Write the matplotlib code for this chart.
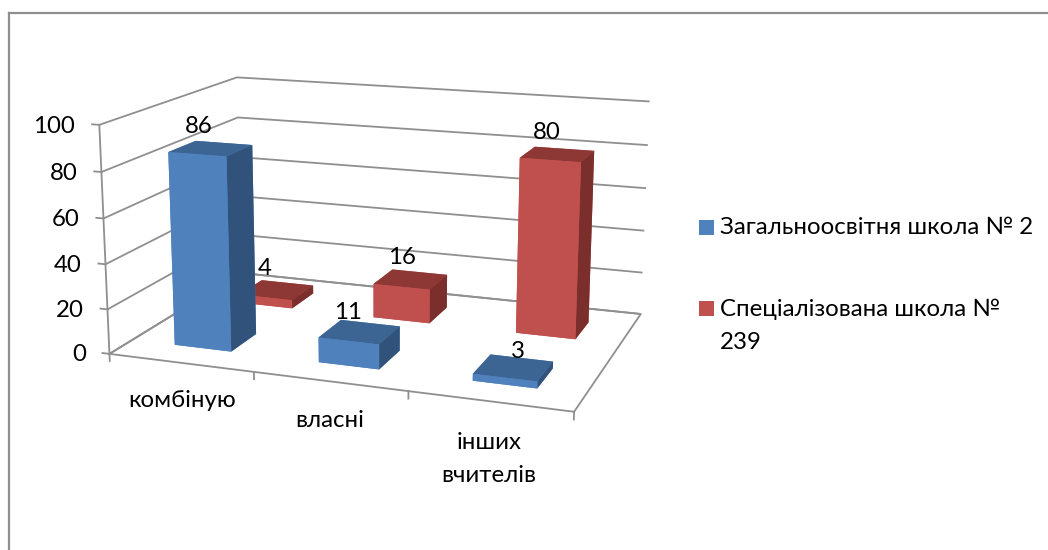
import matplotlib
matplotlib.use("Agg")
import matplotlib.pyplot as plt
from matplotlib.lines import Line2D
from matplotlib.patches import Rectangle
from mpl_toolkits.mplot3d import proj3d

categories = ["комбіную", "власні", "інших\nвчителів"]
series_names = ["Загальноосвітня школа № 2", "Спеціалізована школа №\n239"]
school2 = [86, 11, 3]
school239 = [4, 16, 80]
yticks = [0, 20, 40, 60, 80, 100]

plt.rcParams['font.family'] = ['Lato', 'Open Sans', 'DejaVu Sans']
plt.rcParams['font.size'] = 17.3
plt.rcParams['grid.color'] = '#8f8f8f'
plt.rcParams['grid.linewidth'] = 1.3

gray = '#8f8f8f'
# faces: bottom, top, front, back, left, right
blue_faces = ['#4F81BD', '#3D6594', '#4F81BD', '#4F81BD', '#4F81BD', '#31527A']
red_faces = ['#C0504D', '#8E3836', '#C0504D', '#C0504D', '#C0504D', '#7B2F2D']

bar_x = 0.3056
bar_w = 0.3999
bar_y = [0.3054, 1.3024]
bar_d = 0.3859

# label nudges, by row then category
label_dx = [[-0.087, -0.073, 0.04], [-0.09, -0.06, -0.06]]
label_dz = [[3.5, 1.5, 1.0], [3.0, 3.5, 3.5]]
cat_label_z = [-17, -17, -24.5]

fig = plt.figure(figsize=(10.48, 5.5), dpi=100, facecolor='white')
ax = fig.add_axes([0.08243, 0.04710, 0.55605, 1.05953], projection='3d')
ax.set_xlim(0, 3)
ax.set_ylim(0, 2)
ax.set_zlim(0, 100)
ax.view_init(14.1976, -70.2326, -0.0349)
ax.set_proj_type('persp', focal_length=0.5055)
ax.set_box_aspect((3, 1.9817, 1.4713))
ax.computed_zorder = False
ax.patch.set_alpha(0)

ax.set_xticks([])
ax.set_yticks([])
ax.set_zticks(yticks)
ax.set_zticklabels([])
for axis in (ax.xaxis, ax.yaxis, ax.zaxis):
    axis.set_pane_color((1, 1, 1, 0))
    axis.pane.set_edgecolor((1, 1, 1, 0))
    axis.line.set_color((1, 1, 1, 0))
    axis._axinfo['tick']['inward_factor'] = 0
    axis._axinfo['tick']['outward_factor'] = 0


def label3d(x, y, z, s, **kw):
    xs, ys, _ = proj3d.proj_transform(x, y, z, ax.get_proj())
    ax.text2D(xs, ys, s, transform=ax.transData, color='black', **kw)


# axis lines and floor edges
line_kw = dict(color=gray, lw=1.3, zorder=1)
ax.plot([0, 0], [0, 0], [0, 100], **line_kw)
ax.plot([0, 3, 3, 0], [0, 0, 2, 2], [0, 0, 0, 0], **line_kw)
ax.plot([0, 0], [0, 2], [0, 0], **line_kw)
for v in yticks:
    ax.plot([0, -0.05], [0, 0], [v, v], **line_kw)
    label3d(-0.17, 0, v - 1.5, str(v), ha='right', va='center')
for i in range(4):
    ax.plot([i, i], [0, 0], [0, -3.2], **line_kw)

# back row first so the front bars cover it
order = 2
for row, values, faces in [(1, school239, red_faces), (0, school2, blue_faces)]:
    for i, v in enumerate(values):
        ax.bar3d(i + bar_x, bar_y[row], 0, bar_w, bar_d, v, color=faces,
                 shade=False, linewidth=0, zorder=order)
        order += 1
        label3d(i + bar_x + bar_w * 0.42 + label_dx[row][i], bar_y[row] + bar_d * 0.7,
                v + label_dz[row][i], str(v), ha='center', va='bottom', zorder=20)

for i, name in enumerate(categories):
    label3d(i + 0.5, 0, cat_label_z[i], name, ha='center', va='center', linespacing=1.7)


def px_x(x):
    return x / 1048


def px_y(y):
    return 1 - y / 550


# outer chart frame
fig.add_artist(Line2D([px_x(8.5), px_x(8.5)], [px_y(13), 0], color=gray, lw=1.6))
fig.add_artist(Line2D([px_x(8.5), 1], [px_y(13), px_y(13)], color=gray, lw=1.6))

# legend
fig.add_artist(Rectangle((px_x(699), px_y(235)), 15 / 1048, 15 / 550,
                         transform=fig.transFigure, facecolor='#4F81BD', edgecolor='none'))
fig.add_artist(Rectangle((px_x(699), px_y(316)), 15 / 1048, 15 / 550,
                         transform=fig.transFigure, facecolor='#C0504D', edgecolor='none'))
fig.text(px_x(720), px_y(228), series_names[0], ha='left', va='center', color='black')
fig.text(px_x(720), px_y(326), series_names[1], ha='left', va='center', color='black',
         linespacing=1.7)

fig.savefig("out.png", dpi=100)
